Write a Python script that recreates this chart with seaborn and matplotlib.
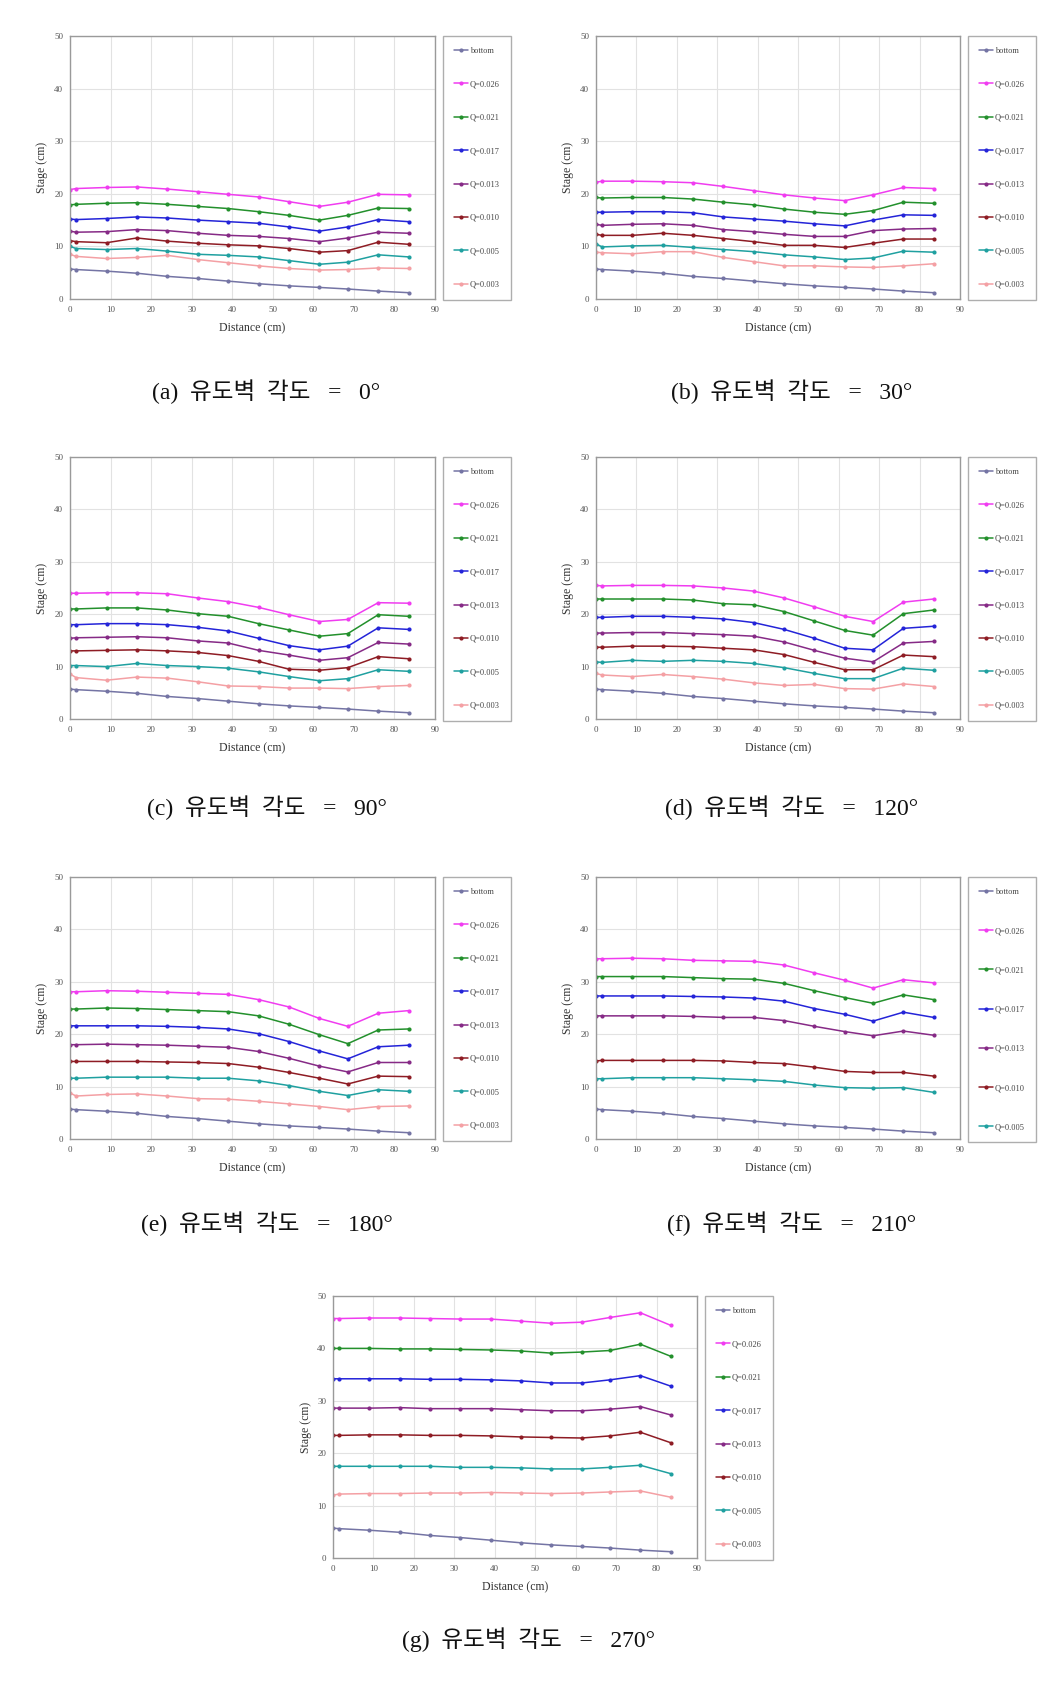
import matplotlib
matplotlib.use("Agg")
import matplotlib.pyplot as plt
import seaborn as sns

# distance along the channel (cm)
dist = [0, 1.5, 9, 16.5, 24, 31.5, 39, 46.5, 54, 61.5, 68.5, 76, 83.5]
bottom = [5.7, 5.6, 5.3, 4.9, 4.3, 3.9, 3.4, 2.9, 2.5, 2.2, 1.9, 1.5, 1.2]

series = ["bottom", "Q=0.026", "Q=0.021", "Q=0.017", "Q=0.013", "Q=0.010", "Q=0.005", "Q=0.003"]
colors = {
    "bottom": "#7474a4",
    "Q=0.026": "#f03cf0",
    "Q=0.021": "#23902c",
    "Q=0.017": "#2424d8",
    "Q=0.013": "#862a86",
    "Q=0.010": "#8e1c24",
    "Q=0.005": "#1fa0a0",
    "Q=0.003": "#f4a0a4",
}

# 유도벽 각도 = 0°
deg0 = {
    "Q=0.026": [20.8, 21.0, 21.2, 21.3, 20.9, 20.4, 19.9, 19.4, 18.5, 17.6, 18.4, 19.9, 19.8],
    "Q=0.021": [17.9, 18.0, 18.2, 18.3, 18.0, 17.6, 17.2, 16.6, 15.9, 15.0, 15.9, 17.3, 17.2],
    "Q=0.017": [15.2, 15.1, 15.3, 15.6, 15.4, 15.0, 14.7, 14.4, 13.7, 12.9, 13.7, 15.1, 14.7],
    "Q=0.013": [12.9, 12.7, 12.8, 13.2, 13.0, 12.5, 12.1, 11.9, 11.5, 10.9, 11.6, 12.7, 12.5],
    "Q=0.010": [11.1, 10.9, 10.7, 11.6, 11.0, 10.6, 10.3, 10.1, 9.6, 8.9, 9.2, 10.8, 10.4],
    "Q=0.005": [10.0, 9.6, 9.4, 9.6, 9.1, 8.5, 8.3, 8.0, 7.3, 6.6, 7.0, 8.4, 8.0],
    "Q=0.003": [8.5, 8.1, 7.7, 7.9, 8.3, 7.5, 6.9, 6.3, 5.8, 5.5, 5.6, 5.9, 5.8],
}
# 30°
deg30 = {
    "Q=0.026": [22.2, 22.4, 22.4, 22.3, 22.1, 21.4, 20.6, 19.8, 19.2, 18.7, 19.8, 21.2, 21.0],
    "Q=0.021": [19.3, 19.2, 19.3, 19.3, 19.0, 18.4, 17.9, 17.1, 16.5, 16.1, 16.8, 18.4, 18.2],
    "Q=0.017": [16.5, 16.5, 16.6, 16.6, 16.4, 15.6, 15.2, 14.8, 14.3, 13.9, 15.0, 16.0, 15.9],
    "Q=0.013": [14.2, 14.0, 14.2, 14.3, 14.0, 13.2, 12.8, 12.3, 11.9, 11.9, 13.0, 13.3, 13.4],
    "Q=0.010": [12.3, 12.1, 12.1, 12.5, 12.1, 11.5, 10.9, 10.2, 10.2, 9.8, 10.6, 11.4, 11.4],
    "Q=0.005": [10.5, 9.9, 10.1, 10.2, 9.8, 9.4, 9.0, 8.4, 8.0, 7.5, 7.8, 9.1, 8.9],
    "Q=0.003": [8.9, 8.8, 8.6, 9.0, 9.0, 7.9, 7.1, 6.3, 6.3, 6.1, 6.0, 6.3, 6.7],
}
# 90°
deg90 = {
    "Q=0.026": [24.0, 24.0, 24.1, 24.1, 23.9, 23.1, 22.4, 21.3, 19.9, 18.6, 19.0, 22.2, 22.1],
    "Q=0.021": [21.0, 21.0, 21.2, 21.2, 20.8, 20.1, 19.6, 18.2, 17.0, 15.8, 16.3, 19.9, 19.6],
    "Q=0.017": [18.0, 18.0, 18.2, 18.2, 18.0, 17.5, 16.8, 15.4, 14.0, 13.2, 13.9, 17.4, 17.1],
    "Q=0.013": [15.4, 15.5, 15.6, 15.7, 15.5, 14.9, 14.5, 13.1, 12.2, 11.2, 11.7, 14.6, 14.3],
    "Q=0.010": [13.0, 13.0, 13.1, 13.2, 13.0, 12.7, 12.1, 11.0, 9.5, 9.3, 9.8, 11.9, 11.5],
    "Q=0.005": [10.2, 10.2, 10.0, 10.6, 10.2, 10.0, 9.7, 9.0, 8.1, 7.3, 7.7, 9.4, 9.1],
    "Q=0.003": [8.6, 7.9, 7.4, 8.0, 7.8, 7.1, 6.3, 6.2, 5.9, 5.9, 5.8, 6.2, 6.4],
}
# 120°
deg120 = {
    "Q=0.026": [25.5, 25.4, 25.5, 25.5, 25.4, 25.0, 24.4, 23.1, 21.4, 19.6, 18.6, 22.3, 22.9],
    "Q=0.021": [22.9, 22.9, 22.9, 22.9, 22.7, 22.0, 21.8, 20.5, 18.7, 16.9, 16.0, 20.1, 20.8],
    "Q=0.017": [19.4, 19.4, 19.6, 19.6, 19.4, 19.1, 18.4, 17.1, 15.4, 13.5, 13.2, 17.3, 17.7],
    "Q=0.013": [16.4, 16.4, 16.5, 16.5, 16.3, 16.1, 15.8, 14.7, 13.1, 11.6, 10.9, 14.5, 14.8],
    "Q=0.010": [13.7, 13.7, 13.9, 13.9, 13.8, 13.5, 13.2, 12.3, 10.8, 9.4, 9.4, 12.2, 11.9],
    "Q=0.005": [10.9, 10.8, 11.2, 11.0, 11.2, 11.0, 10.6, 9.8, 8.7, 7.7, 7.7, 9.7, 9.3],
    "Q=0.003": [8.7, 8.4, 8.1, 8.5, 8.1, 7.6, 6.9, 6.4, 6.6, 5.8, 5.7, 6.7, 6.2],
}
# 180°
deg180 = {
    "Q=0.026": [28.1, 28.1, 28.3, 28.2, 28.0, 27.8, 27.6, 26.6, 25.2, 23.0, 21.5, 24.0, 24.5],
    "Q=0.021": [24.8, 24.8, 25.0, 24.9, 24.7, 24.5, 24.3, 23.5, 21.9, 19.9, 18.2, 20.8, 21.0],
    "Q=0.017": [21.6, 21.6, 21.6, 21.6, 21.5, 21.3, 21.0, 20.1, 18.6, 16.8, 15.3, 17.6, 17.9],
    "Q=0.013": [18.0, 18.0, 18.1, 18.0, 17.9, 17.7, 17.5, 16.7, 15.4, 13.9, 12.8, 14.6, 14.6],
    "Q=0.010": [14.8, 14.8, 14.8, 14.8, 14.7, 14.6, 14.4, 13.7, 12.7, 11.6, 10.5, 12.0, 11.9],
    "Q=0.005": [11.6, 11.6, 11.8, 11.8, 11.8, 11.6, 11.6, 11.1, 10.2, 9.1, 8.3, 9.4, 9.1],
    "Q=0.003": [8.8, 8.2, 8.5, 8.6, 8.2, 7.7, 7.6, 7.2, 6.7, 6.2, 5.6, 6.2, 6.3],
}
# 210° (no Q=0.003 run)
deg210 = {
    "Q=0.026": [34.4, 34.4, 34.5, 34.4, 34.1, 34.0, 33.9, 33.2, 31.7, 30.3, 28.8, 30.4, 29.8],
    "Q=0.021": [31.0, 31.0, 31.0, 31.0, 30.8, 30.6, 30.5, 29.7, 28.3, 27.0, 25.9, 27.5, 26.6],
    "Q=0.017": [27.3, 27.3, 27.3, 27.3, 27.2, 27.1, 26.9, 26.3, 24.9, 23.8, 22.5, 24.2, 23.2],
    "Q=0.013": [23.5, 23.5, 23.5, 23.5, 23.4, 23.2, 23.2, 22.6, 21.5, 20.5, 19.7, 20.6, 19.8],
    "Q=0.010": [14.9, 15.0, 15.0, 15.0, 15.0, 14.9, 14.6, 14.4, 13.7, 12.9, 12.7, 12.7, 12.0],
    "Q=0.005": [11.5, 11.5, 11.7, 11.7, 11.7, 11.5, 11.3, 11.0, 10.3, 9.8, 9.7, 9.8, 8.9],
}
# 270°
deg270 = {
    "Q=0.026": [45.7, 45.7, 45.8, 45.8, 45.7, 45.6, 45.6, 45.2, 44.8, 45.0, 45.9, 46.8, 44.4],
    "Q=0.021": [40.0, 40.0, 40.0, 39.9, 39.9, 39.8, 39.7, 39.5, 39.1, 39.3, 39.6, 40.8, 38.5],
    "Q=0.017": [34.2, 34.2, 34.2, 34.2, 34.1, 34.1, 34.0, 33.8, 33.4, 33.4, 34.0, 34.8, 32.8],
    "Q=0.013": [28.6, 28.6, 28.6, 28.7, 28.5, 28.5, 28.5, 28.3, 28.1, 28.1, 28.4, 28.9, 27.3],
    "Q=0.010": [23.4, 23.4, 23.5, 23.5, 23.4, 23.4, 23.3, 23.1, 23.0, 22.9, 23.3, 24.0, 22.0],
    "Q=0.005": [17.5, 17.5, 17.5, 17.5, 17.5, 17.3, 17.3, 17.2, 17.0, 17.0, 17.3, 17.7, 16.1],
    "Q=0.003": [12.0, 12.2, 12.3, 12.3, 12.4, 12.4, 12.5, 12.4, 12.3, 12.4, 12.6, 12.8, 11.6],
}

captions = ["(a)  유도벽  각도   =   0°", "(b)  유도벽  각도   =   30°", "(c)  유도벽  각도   =   90°",
            "(d)  유도벽  각도   =   120°", "(e)  유도벽  각도   =   180°", "(f)  유도벽  각도   =   210°",
            "(g)  유도벽  각도   =   270°"]
panels = [deg0, deg30, deg90, deg120, deg180, deg210, deg270]

sns.set_style("white")
plt.rcParams["font.family"] = ["Liberation Serif", "Noto Sans CJK KR"]

W, H = 1046, 1698
fig = plt.figure(figsize=(W / 100, H / 100), dpi=100)

def rect(l, r, t, b):
    return [l / W, 1 - b / H, (r - l) / W, (b - t) / H]

# axes boxes in pixels: left, right, top, bottom
boxes = [(70, 435, 36, 299), (596, 960, 36, 299),
         (70, 435, 457, 719), (596, 960, 457, 719),
         (70, 435, 877, 1139), (596, 960, 877, 1139),
         (333, 697, 1296, 1558)]
caption_y = [392, 392, 808, 808, 1224, 1224, 1640]

for data, box, cap, cy in zip(panels, boxes, captions, caption_y):
    ax = fig.add_axes(rect(*box))
    for name in series:
        vals = bottom if name == "bottom" else data.get(name)
        if vals is None:
            continue
        sns.lineplot(x=dist, y=vals, ax=ax, color=colors[name], marker="o",
                     markersize=3, markeredgewidth=0, linewidth=1.1, label=name)
    ax.set_xlim(0, 90)
    ax.set_ylim(0, 50)
    ax.set_xticks(range(0, 91, 10))
    ax.set_yticks(range(0, 51, 10))
    ax.grid(True, color="#e2e2e2", linewidth=0.8)
    ax.tick_params(labelsize=6.5, colors="#555555", length=0, pad=5)
    for s in ax.spines.values():
        s.set_color("#9a9a9a")
        s.set_linewidth(1.0)
    ax.set_xlabel("Distance (cm)", fontsize=8.5, color="#333333", labelpad=6)
    ax.set_ylabel("Stage (cm)", fontsize=8.5, color="#333333", labelpad=4)
    n = len(ax.get_legend_handles_labels()[1])
    ls = 3.05 if n == 8 else 3.75
    leg = ax.legend(loc="upper left", bbox_to_anchor=(1.022, 1.0), frameon=True,
                    fancybox=False, edgecolor="#9a9a9a", fontsize=6,
                    labelspacing=ls, handlelength=1.7, handletextpad=0.25,
                    borderpad=1.3, borderaxespad=0)
    leg.get_frame().set_linewidth(1.0)
    for t in leg.get_texts():
        t.set_color("#444444")
    cx = (box[0] + box[1]) / 2 + 14
    fig.text(cx / W, 1 - cy / H, cap, ha="center", va="center", fontsize=17, color="#111111")

fig.savefig("out.png", dpi=100, facecolor="white")
